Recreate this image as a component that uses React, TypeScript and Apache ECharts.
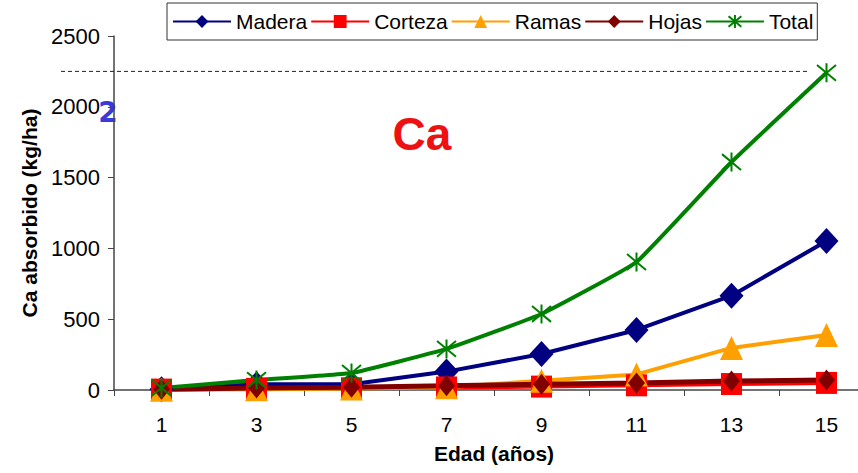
import React, { useEffect, useRef } from "react";
import * as echarts from "echarts";

const categories = ["1", "3", "5", "7", "9", "11", "13", "15"];
const madera = [5, 40, 40, 130, 254, 424, 666, 1052];
const corteza = [3, 8, 12, 18, 24, 33, 42, 50];
const ramas = [2, 5, 10, 20, 65, 110, 297, 388];
const hojas = [5, 15, 20, 30, 40, 50, 63, 70];
const total = [15, 70, 120, 290, 537, 904, 1610, 2240];
const yTicks = { min: 0, max: 2500, interval: 500 };
const refLineValue = 2250;

const FONT = "'Liberation Sans', Arial, sans-serif";
const ASTERISK = "path://M0,0L20,20M20,0L0,20M10,-2L10,22";

export default function App() {
  const ref = useRef<HTMLDivElement>(null);
  useEffect(() => {
    const chart = echarts.init(ref.current!, undefined, { renderer: "svg" });
    const gridTop = 36;
    const gridBottom = 83;
    const plotH = 473 - gridTop - gridBottom;
    const yRef = gridTop + plotH * (1 - refLineValue / yTicks.max);
    const lineSeries = (name: string, data: number[], color: string, symbol: string, size: any, extra: any = {}) => ({
      name,
      type: "line",
      data,
      symbol,
      symbolSize: size,
      lineStyle: { color, width: 4 },
      itemStyle: { color },
      z: 2,
      ...extra,
    });
    chart.setOption({
      animation: false,
      textStyle: { fontFamily: FONT },
      grid: { left: 114, top: gridTop, width: 760, bottom: gridBottom, containLabel: false, outerBoundsMode: "none" },
      legend: {
        left: 167,
        top: 3,
        padding: [8, 4, 8, 5],
        itemWidth: 58,
        itemHeight: 16,
        itemGap: 3,
        borderColor: "#333",
        borderWidth: 1,
        textStyle: { fontSize: 21, color: "#000", fontFamily: FONT },
        data: ["Madera", "Corteza", "Ramas", "Hojas", "Total"],
      },
      xAxis: {
        type: "category",
        data: categories,
        boundaryGap: true,
        name: "Edad (años)",
        nameLocation: "middle",
        nameGap: 53,
        nameTextStyle: { fontSize: 21, fontWeight: "bold", color: "#000", fontFamily: FONT, verticalAlign: "top" },
        axisLine: { lineStyle: { color: "#444", width: 1.5 } },
        axisTick: { show: true, length: 6, interval: 0, lineStyle: { color: "#444" } },
        axisLabel: { fontSize: 21, color: "#000", margin: 24, interval: 0 },
        splitLine: { show: false },
      },
      yAxis: {
        type: "value",
        min: yTicks.min,
        max: yTicks.max,
        interval: yTicks.interval,
        name: "Ca absorbido (kg/ha)",
        nameLocation: "middle",
        nameGap: 72,
        nameTextStyle: { fontSize: 21, fontWeight: "bold", color: "#000", fontFamily: FONT },
        axisLine: { show: true, lineStyle: { color: "#444", width: 1.5 } },
        axisTick: { show: true, length: 6, lineStyle: { color: "#444" } },
        axisLabel: { fontSize: 22, color: "#000", margin: 14, formatter: (v: number) => String(v) },
        splitLine: { show: false },
      },
      series: [
        lineSeries("Madera", madera, "#000080", "diamond", [24, 26]),
        lineSeries("Corteza", corteza, "#ff0000", "rect", [21, 22]),
        lineSeries("Ramas", ramas, "#ffa000", "triangle", [23, 24]),
        lineSeries("Hojas", hojas, "#800000", "diamond", [17, 21], { lineStyle: { color: "#800000", width: 5 } }),
        lineSeries("Total", total, "#008000", ASTERISK, [19, 19], {
          smooth: 0.1,
          itemStyle: { color: "transparent", borderColor: "#008000", borderWidth: 2 },
          lineStyle: { color: "#008000", width: 4 },
        }),
      ],
      graphic: [
        {
          type: "line",
          shape: { x1: 61, y1: yRef, x2: 810, y2: yRef },
          style: { stroke: "#222", lineWidth: 1, lineDash: [4, 3] },
          z: 1,
        },
        {
          type: "text",
          x: 108,
          y: 112,
          style: {
            text: "2",
            font: "bold 28px 'DejaVu Sans', sans-serif",
            fill: "#3a3ad8",
            align: "center",
            verticalAlign: "middle",
            shadowColor: "rgba(0,0,60,0.6)",
            shadowBlur: 2,
            shadowOffsetX: 1,
            shadowOffsetY: 1,
          },
        },
        {
          type: "text",
          x: 422,
          y: 134,
          style: {
            text: "Ca",
            font: "bold 46px 'Liberation Sans', Arial, sans-serif",
            fill: "#ee1111",
            align: "center",
            verticalAlign: "middle",
            shadowColor: "rgba(60,0,0,0.5)",
            shadowBlur: 3,
            shadowOffsetX: 1,
            shadowOffsetY: 2,
          },
        },
      ],
    });
    return () => chart.dispose();
  }, []);
  return (
    <div style={{ position: "absolute", left: 0, top: 0, width: 858, height: 473, overflow: "hidden" }}>
      <div ref={ref} style={{ width: 900, height: 473 }} />
    </div>
  );
}
